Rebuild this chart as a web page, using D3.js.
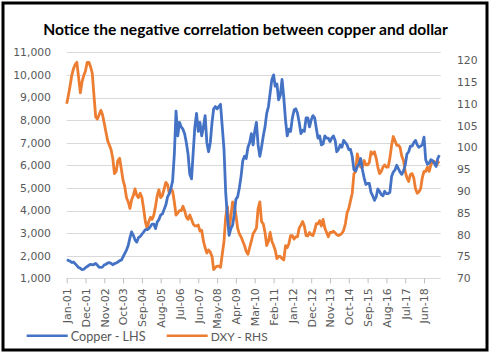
<!DOCTYPE html>
<html>
<head>
<meta charset="utf-8">
<script src="https://cdn.jsdelivr.net/npm/d3@7"></script>
<style>
  html, body { margin: 0; padding: 0; background: #fff; }
  svg { display: block; }
</style>
</head>
<body>
<svg id="chart" width="491" height="355"></svg>
<script>
// ---------- DATA (monthly, Jan 2001 - Mar 2019) ----------
const startMonth = "2001-01";
const copperValues = [
  1810,1790,1760,1700,1720,1640,1560,1480,1440,1380,1400,1470,
  1520,1580,1620,1600,1610,1660,1580,1490,1480,1500,1600,1620,
  1680,1690,1660,1600,1650,1680,1720,1780,1800,1950,2100,2250,
  2450,2800,3050,2900,2700,2600,2800,2850,2950,3050,3150,3150,
  3200,3300,3400,3400,3200,3500,3600,3800,3850,4050,4250,4600,
  4750,5000,5300,6500,8400,7300,7900,7700,7600,7400,7000,6500,
  5600,5400,6500,7700,8300,7500,7900,7300,7700,8200,7000,6600,
  7000,7900,8500,8600,8500,8600,8700,7700,6700,4800,3700,2900,
  3200,3350,3800,4500,4600,5000,5500,6200,6400,6300,6800,7000,
  7400,6900,7500,7900,6900,6400,6800,7300,7700,8300,8600,9200,
  9800,10000,9500,9600,8900,9100,9800,9000,8000,7300,7600,7500,
  8100,8450,8500,8300,7900,7400,7550,7500,8100,8100,7700,8000,
  8200,8100,7650,7200,7300,6900,6950,7300,7200,7200,7050,7200,
  7300,7100,6600,6700,6900,6800,7100,7000,6900,6700,6700,6400,
  5800,5750,5950,6050,6300,5800,5450,5150,5200,5200,4800,4650,
  4450,4600,4950,4850,4700,4650,4850,4750,4750,4800,5500,5700,
  5800,6000,5850,5700,5600,5750,6000,6500,6600,6850,6850,7000,
  7100,6900,6800,6850,6900,7250,6250,6050,6100,6250,6200,6100,
  5950,6300,6450
];
const dxyValues = [
  110,112,114,116.5,118,119,119.5,116,112.5,115,116.5,117.5,
  119.5,119.5,118.5,117,112,107,106.5,107.5,108.5,107.5,105.5,103.5,
  101.5,100.5,99.5,97.5,94,94.5,97,97.5,95,92.5,91,88.5,
  87.5,86,88,89,90.5,89,88.5,89.5,88.5,86,83,81.5,
  83,84,83.5,84.5,86.5,89,90.3,88.5,89,90.5,92,91.5,
  89.5,90.5,90,87.5,84.5,85,85.5,85.5,86.5,85.5,84,83.5,
  84.5,83.5,82.5,82,82,82.2,80.8,81,78.5,77,75.8,76.5,
  76,75,72,72.5,72.8,72.8,72.5,75.5,78.5,84,86.5,81.5,
  84,87.5,87,84.5,81.5,80.2,79.5,78.5,77.5,76.2,75.5,77,
  78.5,80.2,80.8,81.5,86,87.5,83,82.5,80.5,77.5,78.5,80.5,
  78.5,77.5,76.5,74.5,75,75,74.5,74.2,77.5,77,78,79.8,
  79.8,79,79.5,79.5,81.5,82.2,83,82,79.8,79.7,80.5,80,
  79.8,81,82.5,82.5,83.2,82,83.5,81.5,80.5,79.5,80.5,80.5,
  80.8,80.4,80,79.8,80,80.3,81,82.5,85,86,87.8,89.5,
  94,94.5,98.5,97,95.5,95.5,97,96,96,96.5,99,98.5,
  99,97.5,95.5,94,94.5,95.5,96,95.5,95.5,97.5,100.5,102.5,
  101.5,100.5,100.5,100,98,97,94.5,93,92.2,93.8,94,93,
  90.5,89.5,89.8,90.5,93,94.5,94.5,95.5,94.5,96,96.8,96.8,
  95.8,96.5,96.8
];
const xTickLabels = ["Jan-01","Dec-01","Nov-02","Oct-03","Sep-04","Aug-05","Jul-06","Jun-07",
  "May-08","Apr-09","Mar-10","Feb-11","Jan-12","Dec-12","Nov-13","Oct-14","Sep-15","Aug-16",
  "Jul-17","Jun-18"];
const leftTicks = [1000,2000,3000,4000,5000,6000,7000,8000,9000,10000,11000];
const rightTicks = [70,75,80,85,90,95,100,105,110,115,120];
const seriesNames = ["Copper - LHS", "DXY - RHS"];
const seriesColors = ["#4472C4", "#ED7D31"];
const titleText = "Notice the negative correlation between copper and dollar";

// ---------- LAYOUT ----------
const svg = d3.select("#chart");
const plot = { left: 66.7, right: 440.7, top: 52.3, bottom: 278.3 };
const axisFont = "'DejaVu Sans', sans-serif";
const textColor = "#595959";

const parseMonth = d3.timeParse("%Y-%m");
const parseTick = d3.timeParse("%b-%y");
const start = parseMonth(startMonth);
const dates = copperValues.map((_, i) => d3.timeMonth.offset(start, i));

const x = d3.scaleTime()
  .domain([start, new Date(2019, 2, 25)])
  .range([plot.left, plot.right]);
const yL = d3.scaleLinear().domain([1000, 11000]).range([plot.bottom, plot.top]);
const yR = d3.scaleLinear().domain([70, 121.8]).range([plot.bottom, plot.top]);

svg.append("rect").attr("x", 0).attr("y", 0).attr("width", 491).attr("height", 355).attr("fill", "#fff");

// gridlines
svg.append("g").selectAll("line").data(leftTicks).join("line")
  .attr("x1", plot.left).attr("x2", plot.right)
  .attr("y1", d => Math.round(yL(d)) + 0.5).attr("y2", d => Math.round(yL(d)) + 0.5)
  .attr("stroke", "#d9d9d9").attr("stroke-width", 1);

// left axis
const leftAxis = d3.axisLeft(yL).tickValues(leftTicks).tickSize(0).tickPadding(0)
  .tickFormat(d3.format(","));
const gL = svg.append("g").attr("transform", "translate(51,0)").call(leftAxis);
gL.select(".domain").remove();
gL.selectAll("text").attr("font-family", axisFont).attr("font-size", 10.8).attr("fill", textColor);

// right axis
const rightAxis = d3.axisRight(yR).tickValues(rightTicks).tickSize(0).tickPadding(0);
const gR = svg.append("g").attr("transform", "translate(457,0)").call(rightAxis);
gR.select(".domain").remove();
gR.selectAll("text").attr("font-family", axisFont).attr("font-size", 10.8).attr("fill", textColor);

// bottom axis
const tickDates = xTickLabels.map(parseTick);
const bottomAxis = d3.axisBottom(x).tickValues(tickDates).tickSize(5).tickPadding(0)
  .tickFormat((d, i) => xTickLabels[i]);
const gB = svg.append("g").attr("transform", `translate(0,${plot.bottom})`).call(bottomAxis);
gB.select(".domain").remove();
gB.selectAll(".tick line").attr("stroke", "#bfbfbf");
gB.selectAll("text")
  .attr("font-family", axisFont).attr("font-size", 11).attr("fill", textColor)
  .attr("text-anchor", "end")
  .attr("transform", "rotate(-90)")
  .attr("x", -10).attr("y", 0).attr("dy", "0.35em");

// lines
const lineL = d3.line().x((d, i) => x(dates[i])).y(d => yL(d));
const lineR = d3.line().x((d, i) => x(dates[i])).y(d => yR(d));
svg.append("path").datum(dxyValues).attr("d", lineR)
  .attr("fill", "none").attr("stroke", seriesColors[1]).attr("stroke-width", 2.8)
  .attr("stroke-linejoin", "round");
svg.append("path").datum(copperValues).attr("d", lineL)
  .attr("fill", "none").attr("stroke", seriesColors[0]).attr("stroke-width", 2.8)
  .attr("stroke-linejoin", "round");

// Title
const title = svg.append("text").text(titleText)
  .attr("x", 245.5).attr("y", 35).attr("text-anchor", "middle")
  .attr("font-family", "Lato, sans-serif").attr("font-weight", "bold").attr("font-size", 14)
  .attr("fill", "#000");
{
  const w = title.node().getComputedTextLength();
  title.attr("font-size", 14 * 405 / w);
}

// Legend
const legendItems = [
  { name: seriesNames[0], color: seriesColors[0], x0: 26.7, width: 75 },
  { name: seriesNames[1], color: seriesColors[1], x0: 166.7, width: 57 }
];
const lg = svg.append("g");
legendItems.forEach(it => {
  lg.append("line").attr("x1", it.x0).attr("x2", it.x0 + 41)
    .attr("y1", 335.7).attr("y2", 335.7)
    .attr("stroke", it.color).attr("stroke-width", 2.5);
  const t = lg.append("text").text(it.name)
    .attr("x", it.x0 + 44).attr("y", 340.5)
    .attr("font-family", "Lato, sans-serif").attr("font-size", 13).attr("fill", textColor);
  const w = t.node().getComputedTextLength();
  t.attr("font-size", 13 * it.width / w);
});

// outer border
svg.append("rect").attr("x", 3).attr("y", 3).attr("width", 484).attr("height", 347)
  .attr("fill", "none").attr("stroke", "#000").attr("stroke-width", 3);
</script>
</body>
</html>
